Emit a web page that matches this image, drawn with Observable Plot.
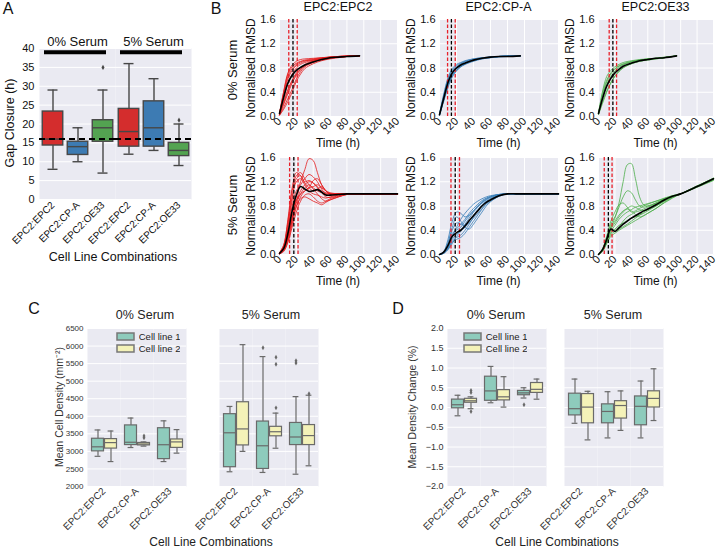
<!DOCTYPE html>
<html>
<head>
<meta charset="utf-8">
<script src="https://cdn.jsdelivr.net/npm/d3@7"></script>
<script src="https://cdn.jsdelivr.net/npm/@observablehq/plot@0.6"></script>
<style>
html,body{margin:0;padding:0;background:#fff;}
#fig{position:relative;width:718px;height:548px;overflow:hidden;font-family:"Liberation Sans",Arial,sans-serif;color:#111;background:#fff;}
#fig .p{position:absolute;}
#fig .t{position:absolute;white-space:nowrap;line-height:1;}
.leg, .leg div, .leg span{font-family:"Liberation Sans",Arial,sans-serif !important;font-size:9.5px !important;color:#222 !important;}
.leg svg rect{stroke:#777;stroke-width:1.5;}
</style>
</head>
<body>
<div id="fig"></div>
<script>
// ---------------- shared categories ----------------
const serums = ["0% Serum", "5% Serum"];
const combos = ["EPC2:EPC2", "EPC2:CP-A", "EPC2:OE33"];
const cellLines = ["Cell line 1", "Cell line 2"];

// ---------------- Panel A: gap closure ----------------
const gapSerum  = ["0% Serum","0% Serum","0% Serum","5% Serum","5% Serum","5% Serum"];
const gapCombo  = ["EPC2:EPC2","EPC2:CP-A","EPC2:OE33","EPC2:EPC2","EPC2:CP-A","EPC2:OE33"];
const gapLow    = [8, 10, 7, 12, 13, 9];
const gapQ1     = [14.3, 11.8, 15.3, 14, 14, 11.5];
const gapMedian = [16, 14, 19, 18, 19, 13];
const gapQ3     = [23.3, 15.3, 21, 24, 26, 15];
const gapHigh   = [29, 19, 29, 36, 32, 20];
const gapOutliers = [[], [], [35], [], [], [21]];
const gapMeanClosure = 16;
const gapBarLevel = 39;
const gapTicks = [0, 5, 10, 15, 20, 25, 30, 35, 40];
const comboColors = ["#d42d2d", "#3d7bb3", "#53a351"];

// ---------------- Panel B: normalised RMSD ----------------
const timeTicks = [0, 20, 40, 60, 80, 100, 120, 140];
const rmsdTicks = [0, 0.4, 0.8, 1.2, 1.6];
const tEarly = [0, 5, 10, 15, 20, 25, 30, 40, 50, 60, 70, 80, 95];
const tLong  = [0, 5, 10, 15, 20, 25, 30, 35, 40, 45, 50, 55, 60, 70, 80, 90, 100, 120, 140];

// 0% serum, EPC2:EPC2
const b0EpcMean = [0.05,0.32,0.55,0.68,0.76,0.81,0.85,0.90,0.94,0.97,0.98,0.99,1.0];
const b0EpcTraces = [
  [0.05,0.40,0.70,0.82,0.88,0.91,0.93,0.95,0.97,0.98,0.99,0.99,1.0],
  [0.04,0.35,0.62,0.76,0.84,0.88,0.91,0.94,0.96,0.98,0.99,1.0,1.0],
  [0.03,0.25,0.45,0.60,0.72,0.80,0.86,0.92,0.95,0.97,0.98,0.99,1.0],
  [0.02,0.15,0.30,0.45,0.62,0.74,0.82,0.90,0.94,0.97,0.98,0.99,1.0],
  [0.03,0.20,0.38,0.55,0.68,0.77,0.83,0.89,0.93,0.96,0.98,0.99,1.0],
  [0.05,0.38,0.66,0.79,0.86,0.90,0.92,0.93,0.95,0.97,0.98,0.99,1.0],
  [0.02,0.12,0.25,0.40,0.58,0.70,0.79,0.87,0.92,0.95,0.97,0.99,1.0],
  [0.04,0.30,0.55,0.70,0.80,0.86,0.89,0.93,0.96,0.98,0.99,1.0,1.0],
  [0.05,0.42,0.72,0.85,0.91,0.94,0.95,0.96,0.97,0.98,0.99,1.0,1.0],
  [0.03,0.22,0.42,0.58,0.70,0.78,0.84,0.91,0.95,0.97,0.98,0.99,1.0]
];
const b0EpcClosure = [11, 16, 21];

// 0% serum, EPC2:CP-A
const b0CpaMean = [0.03,0.30,0.56,0.72,0.80,0.85,0.88,0.93,0.96,0.98,0.99,0.99,1.0];
const b0CpaTraces = [
  [0.04,0.35,0.62,0.77,0.84,0.88,0.91,0.95,0.97,0.98,0.99,1.0,1.0],
  [0.03,0.28,0.52,0.68,0.77,0.83,0.87,0.92,0.95,0.97,0.99,0.99,1.0],
  [0.02,0.25,0.48,0.65,0.75,0.82,0.86,0.92,0.96,0.98,0.99,1.0,1.0],
  [0.04,0.33,0.60,0.75,0.82,0.87,0.90,0.94,0.96,0.98,0.99,1.0,1.0],
  [0.03,0.31,0.57,0.73,0.81,0.86,0.89,0.93,0.96,0.98,0.99,0.99,1.0],
  [0.02,0.27,0.50,0.67,0.76,0.82,0.86,0.91,0.95,0.97,0.98,0.99,1.0],
  [0.05,0.37,0.64,0.79,0.86,0.89,0.92,0.95,0.97,0.98,0.99,1.0,1.0],
  [0.03,0.29,0.54,0.70,0.79,0.84,0.88,0.93,0.96,0.98,0.99,1.0,1.0]
];
const b0CpaClosure = [9.5, 14, 18.5];

// 0% serum, EPC2:OE33
const b0OeMean = [0.05,0.30,0.50,0.63,0.72,0.78,0.83,0.88,0.92,0.94,0.96,0.97,1.0];
const b0OeTraces = [
  [0.06,0.42,0.66,0.76,0.82,0.86,0.89,0.92,0.94,0.95,0.96,0.97,1.0],
  [0.04,0.25,0.42,0.56,0.67,0.75,0.81,0.87,0.91,0.93,0.95,0.97,1.0],
  [0.05,0.35,0.57,0.70,0.78,0.83,0.86,0.90,0.93,0.95,0.96,0.97,1.0],
  [0.03,0.22,0.40,0.55,0.66,0.74,0.80,0.87,0.91,0.94,0.96,0.98,1.0],
  [0.05,0.32,0.53,0.66,0.75,0.81,0.85,0.90,0.93,0.95,0.96,0.97,1.0],
  [0.06,0.38,0.60,0.72,0.79,0.84,0.87,0.91,0.93,0.94,0.95,0.97,1.0]
];
const b0OeClosure = [13, 17.5, 22];

// 5% serum, EPC2:EPC2
const b5EpcMean = [0.02,0.10,0.35,0.72,0.98,1.12,1.08,1.04,1.05,1.07,1.03,0.98,0.98,0.99,1.0,1.0,1.0,1.0,1.0];
const b5EpcTraces = [
  [0.02,0.15,0.55,1.05,1.30,1.35,1.25,1.15,1.10,1.05,1.02,1.00,1.00,1.00,1.0,1.0,1.0,1.0,1.0],
  [0.02,0.12,0.45,0.90,1.25,1.30,1.20,1.22,1.18,1.10,1.05,1.02,1.00,1.00,1.0,1.0,1.0,1.0,1.0],
  [0.01,0.08,0.30,0.60,0.95,1.20,1.40,1.58,1.55,1.35,1.15,1.05,1.00,1.00,1.0,1.0,1.0,1.0,1.0],
  [0.02,0.10,0.35,0.70,0.90,1.00,1.05,1.10,1.22,1.25,1.15,1.05,1.00,1.00,1.0,1.0,1.0,1.0,1.0],
  [0.01,0.05,0.20,0.45,0.70,0.88,0.98,1.00,0.95,0.88,0.85,0.88,0.92,0.96,1.0,1.0,1.0,1.0,1.0],
  [0.02,0.09,0.30,0.62,0.85,1.00,1.10,1.15,1.08,1.00,0.92,0.88,0.90,0.95,0.99,1.0,1.0,1.0,1.0],
  [0.03,0.14,0.50,0.95,1.20,1.25,1.15,1.05,1.00,0.98,0.95,0.93,0.95,0.98,1.0,1.0,1.0,1.0,1.0],
  [0.01,0.06,0.22,0.50,0.78,0.95,1.05,1.10,1.12,1.15,1.10,1.05,1.02,1.00,1.0,1.0,1.0,1.0,1.0],
  [0.02,0.11,0.40,0.80,1.05,1.15,1.25,1.32,1.28,1.20,1.08,1.00,0.98,0.99,1.0,1.0,1.0,1.0,1.0],
  [0.02,0.08,0.28,0.55,0.80,0.92,0.95,0.92,0.88,0.85,0.82,0.86,0.90,0.95,0.99,1.0,1.0,1.0,1.0],
  [0.03,0.16,0.58,1.10,1.35,1.30,1.18,1.10,1.05,1.08,1.12,1.05,1.00,1.00,1.0,1.0,1.0,1.0,1.0],
  [0.01,0.07,0.25,0.58,0.88,1.05,1.15,1.20,1.18,1.12,1.02,0.95,0.94,0.97,1.0,1.0,1.0,1.0,1.0]
];
const b5EpcClosure = [12, 17, 22];

// 5% serum, EPC2:CP-A
const b5CpaMean = [0.0,0.04,0.15,0.30,0.36,0.40,0.47,0.56,0.64,0.72,0.80,0.86,0.90,0.97,1.0,1.0,1.0,1.0,1.0];
const b5CpaTraces = [
  [0.0,0.05,0.25,0.55,0.70,0.68,0.62,0.65,0.72,0.80,0.87,0.92,0.95,0.99,1.0,1.0,1.0,1.0,1.0],
  [0.0,0.03,0.12,0.28,0.45,0.58,0.68,0.76,0.83,0.88,0.92,0.95,0.97,0.99,1.0,1.0,1.0,1.0,1.0],
  [0.0,0.02,0.08,0.18,0.30,0.38,0.45,0.52,0.60,0.68,0.76,0.83,0.88,0.96,1.0,1.0,1.0,1.0,1.0],
  [0.0,0.04,0.18,0.40,0.52,0.50,0.48,0.55,0.65,0.74,0.82,0.88,0.92,0.98,1.0,1.0,1.0,1.0,1.0],
  [0.0,0.02,0.10,0.22,0.28,0.32,0.40,0.50,0.62,0.72,0.80,0.87,0.92,0.98,1.0,1.0,1.0,1.0,1.0],
  [0.0,0.03,0.14,0.32,0.42,0.50,0.58,0.68,0.76,0.83,0.89,0.93,0.96,0.99,1.0,1.0,1.0,1.0,1.0],
  [0.0,0.05,0.20,0.45,0.62,0.55,0.45,0.42,0.50,0.60,0.70,0.80,0.87,0.96,1.0,1.0,1.0,1.0,1.0],
  [0.0,0.02,0.09,0.20,0.25,0.28,0.35,0.45,0.55,0.65,0.75,0.84,0.90,0.97,1.0,1.0,1.0,1.0,1.0],
  [0.0,0.04,0.16,0.35,0.40,0.45,0.55,0.64,0.72,0.80,0.86,0.91,0.95,0.99,1.0,1.0,1.0,1.0,1.0],
  [0.0,0.03,0.11,0.25,0.33,0.40,0.50,0.60,0.70,0.78,0.85,0.90,0.94,0.98,1.0,1.0,1.0,1.0,1.0]
];
const b5CpaClosure = [13.5, 18.5, 23.5];

// 5% serum, EPC2:OE33
const b5OeMean = [0.0,0.08,0.25,0.42,0.38,0.44,0.50,0.55,0.60,0.64,0.68,0.72,0.75,0.82,0.90,0.96,1.0,1.12,1.25];
const b5OeTraces = [
  [0.0,0.08,0.25,0.45,0.60,0.85,1.20,1.48,1.50,1.25,0.95,0.82,0.80,0.85,0.92,0.97,1.0,1.12,1.24],
  [0.0,0.09,0.28,0.50,0.62,0.78,0.95,1.05,1.02,0.90,0.80,0.78,0.80,0.85,0.91,0.96,1.0,1.13,1.25],
  [0.0,0.10,0.30,0.55,0.70,0.82,0.85,0.78,0.70,0.72,0.76,0.80,0.83,0.88,0.93,0.97,1.0,1.11,1.22],
  [0.0,0.06,0.20,0.35,0.42,0.48,0.52,0.56,0.60,0.62,0.65,0.68,0.72,0.80,0.88,0.95,1.0,1.12,1.26],
  [0.0,0.07,0.22,0.38,0.48,0.58,0.65,0.70,0.74,0.78,0.80,0.82,0.84,0.88,0.92,0.96,1.0,1.13,1.25],
  [0.0,0.05,0.18,0.30,0.35,0.40,0.44,0.48,0.52,0.56,0.60,0.64,0.68,0.76,0.85,0.93,1.0,1.12,1.24],
  [0.0,0.09,0.26,0.45,0.55,0.65,0.72,0.76,0.80,0.78,0.74,0.72,0.74,0.80,0.88,0.95,1.0,1.11,1.23],
  [0.0,0.08,0.24,0.40,0.40,0.46,0.55,0.62,0.66,0.70,0.72,0.75,0.78,0.84,0.90,0.96,1.0,1.12,1.25],
  [0.0,0.07,0.23,0.42,0.52,0.62,0.70,0.75,0.72,0.66,0.62,0.64,0.68,0.76,0.86,0.94,1.0,1.13,1.26],
  [0.0,0.06,0.19,0.33,0.38,0.42,0.46,0.50,0.55,0.60,0.65,0.70,0.74,0.82,0.89,0.95,1.0,1.12,1.24]
];
const b5OeClosure = [7, 12, 16.5];

const traceColors = ["#e41a1c", "#377eb8", "#4daf4a"];

// ---------------- Panels C & D: box summaries (serum × combination × cell line) ----------------
const boxSerum = ["0% Serum","0% Serum","0% Serum","0% Serum","0% Serum","0% Serum",
                  "5% Serum","5% Serum","5% Serum","5% Serum","5% Serum","5% Serum"];
const boxCombo = ["EPC2:EPC2","EPC2:EPC2","EPC2:CP-A","EPC2:CP-A","EPC2:OE33","EPC2:OE33",
                  "EPC2:EPC2","EPC2:EPC2","EPC2:CP-A","EPC2:CP-A","EPC2:OE33","EPC2:OE33"];
const boxLine  = ["Cell line 1","Cell line 2","Cell line 1","Cell line 2","Cell line 1","Cell line 2",
                  "Cell line 1","Cell line 2","Cell line 1","Cell line 2","Cell line 1","Cell line 2"];

const densLow  = [2860, 2710, 3110, 3150, 2710, 2950, 2420, 3000, 2400, 3090, 2350, 2590];
const densQ1   = [3000, 3080, 3180, 3170, 2780, 3100, 2550, 3170, 2500, 3430, 3180, 3180];
const densMed  = [3130, 3250, 3260, 3210, 3190, 3270, 3530, 3640, 3160, 3560, 3410, 3450];
const densQ3   = [3360, 3350, 3740, 3240, 3660, 3340, 4060, 4400, 3850, 3700, 3810, 3750];
const densHigh = [3610, 3580, 3950, 3270, 3870, 3620, 4280, 6040, 5700, 4090, 4560, 4600];
const densOutliers = [[], [], [], [3440, 3390], [], [], [], [], [5950], [5680, 5480, 4240], [5580, 5520], [4640]];
const densTicks = [2000, 2500, 3000, 3500, 4000, 4500, 5000, 5500, 6000, 6500];

const chgLow  = [-0.21, -0.03, 0.12, 0.01, 0.24, 0.21, -0.40, -0.82, -0.77, -0.58, -0.77, -0.33];
const chgQ1   = [-0.02, 0.12, 0.17, 0.18, 0.31, 0.37, -0.20, -0.40, -0.40, -0.28, -0.45, 0.00];
const chgMed  = [0.07, 0.17, 0.42, 0.27, 0.37, 0.46, -0.03, 0.01, -0.10, 0.05, 0.03, 0.23];
const chgQ3   = [0.20, 0.22, 0.78, 0.44, 0.42, 0.62, 0.35, 0.34, 0.08, 0.16, 0.28, 0.41];
const chgHigh = [0.31, 0.27, 1.04, 0.78, 0.50, 0.72, 0.72, 0.41, 0.40, 0.42, 0.67, 0.98];
const chgOutliers = [[], [0.43, 0.38, -0.10], [], [], [0.07], [], [], [], [], [], [], []];
const chgTicks = [-2.0, -1.5, -1.0, -0.5, 0.0, 0.5, 1.0, 1.5, 2.0];

const lineColors = ["#8ecbbc", "#f4f2b8"];

// ================= drawing =================
const FONT = '"Liberation Sans", Arial, sans-serif';
const BG = "#eaeaf2";
const fig = document.getElementById("fig");

function baseStyle(size, color) {
  return `font-family:${FONT};font-size:${size}px;color:${color};background:none;overflow:visible;max-width:none;`;
}
function place(el, left, top, cls = "p") {
  const d = document.createElement("div");
  d.className = cls;
  d.style.left = left + "px";
  d.style.top = top + "px";
  d.appendChild(el);
  fig.appendChild(d);
}
function label(str, x, y, size, opts = {}) {
  const d = document.createElement("div");
  d.className = "t";
  d.textContent = str;
  d.style.left = x + "px";
  d.style.top = y + "px";
  d.style.fontSize = size + "px";
  d.style.color = opts.color || "#111";
  d.style.transform = "translate(-50%,-50%)" + (opts.rot ? " rotate(-90deg)" : "");
  fig.appendChild(d);
}

// ---------- Panel A ----------
{
  const rows = gapSerum.map((s, i) => ({serum: s, combo: gapCombo[i], lo: gapLow[i], q1: gapQ1[i], med: gapMedian[i], q3: gapQ3[i], hi: gapHigh[i]}));
  const outl = rows.flatMap((r, i) => gapOutliers[i].map(v => ({serum: r.serum, combo: r.combo, v})));
  const bars = serums.map(s => ({serum: s, y: gapBarLevel}));
  const E = "#474747";
  const common = {fx: "serum", x: "combo", stroke: E, strokeWidth: 1.4};
  const svg = Plot.plot({
    width: 205, height: 265,
    marginLeft: 38, marginRight: 14, marginTop: 48, marginBottom: 66,
    style: baseStyle(11, "#111"),
    fx: {domain: serums, padding: 0},
    x: {domain: combos, padding: 0},
    y: {domain: [0, 40]},
    color: {domain: combos, range: comboColors},
    marks: [
      Plot.frame({fill: BG, stroke: "none"}),
      Plot.gridY(gapTicks, {stroke: "white", strokeOpacity: 1, strokeWidth: 1}),
      Plot.axisFx({anchor: "top", tickSize: 0, tickPadding: 3, fontSize: 13, label: null}),
      Plot.axisX({tickRotate: -45, tickSize: 0, tickPadding: 4, fontSize: 10, label: null}),
      Plot.axisY(gapTicks, {tickSize: 0, tickPadding: 5, label: null}),
      Plot.ruleX(rows, {...common, y1: "lo", y2: "q1"}),
      Plot.ruleX(rows, {...common, y1: "q3", y2: "hi"}),
      Plot.tickY(rows, {...common, y: "lo", insetLeft: 7.5, insetRight: 7.5}),
      Plot.tickY(rows, {...common, y: "hi", insetLeft: 7.5, insetRight: 7.5}),
      Plot.barY(rows, {...common, y1: "q1", y2: "q3", fill: "combo", insetLeft: 2.25, insetRight: 2.25}),
      Plot.tickY(rows, {...common, y: "med", insetLeft: 2.25, insetRight: 2.25}),
      Plot.dot(outl, {fx: "serum", x: "combo", y: "v", symbol: "diamond", r: 1.6, fill: E, stroke: "none"}),
      Plot.ruleY([gapMeanClosure], {stroke: "black", strokeWidth: 2, strokeDasharray: "6,4"}),
      Plot.ruleY(bars, {fx: "serum", y: "y", stroke: "black", strokeWidth: 4, insetLeft: 5, insetRight: 9})
    ]
  });
  place(svg, 0, 0);
  label("A", 8, 9, 16);
  label("Gap Closure (h)", 10, 123, 12.5, {rot: true});
  label("Cell Line Combinations", 113, 257, 12.5);
}

// ---------- Panel B ----------
const bLefts = [279, 439, 598];
const bWidths = [118, 119, 115];
const bTops = [19, 157];
const bHeight = 97;
const bPanels = [
  {row: 0, col: 0, times: tEarly, traces: b0EpcTraces, mean: b0EpcMean, closure: b0EpcClosure},
  {row: 0, col: 1, times: tEarly, traces: b0CpaTraces, mean: b0CpaMean, closure: b0CpaClosure},
  {row: 0, col: 2, times: tEarly, traces: b0OeTraces,  mean: b0OeMean,  closure: b0OeClosure},
  {row: 1, col: 0, times: tLong,  traces: b5EpcTraces, mean: b5EpcMean, closure: b5EpcClosure},
  {row: 1, col: 1, times: tLong,  traces: b5CpaTraces, mean: b5CpaMean, closure: b5CpaClosure},
  {row: 1, col: 2, times: tLong,  traces: b5OeTraces,  mean: b5OeMean,  closure: b5OeClosure}
];
for (const p of bPanels) {
  const rows = [];
  p.traces.forEach((tr, k) => tr.forEach((v, i) => rows.push({id: k, t: p.times[i], v})));
  const meanRows = p.mean.map((v, i) => ({t: p.times[i], v}));
  const w = bWidths[p.col];
  const svg = Plot.plot({
    width: 40 + w + 8, height: 5 + bHeight + 32,
    marginLeft: 40, marginRight: 8, marginTop: 5, marginBottom: 32,
    style: baseStyle(11, "#111"),
    x: {domain: [0, 140]},
    y: {domain: [0, 1.6]},
    marks: [
      Plot.frame({fill: BG, stroke: "none"}),
      Plot.gridX(timeTicks, {stroke: "white", strokeOpacity: 1, strokeWidth: 1}),
      Plot.gridY(rmsdTicks, {stroke: "white", strokeOpacity: 1, strokeWidth: 1}),
      Plot.axisX(timeTicks, {tickRotate: -45, tickSize: 0, tickPadding: 3, label: null}),
      Plot.axisY(rmsdTicks, {tickSize: 0, tickPadding: 4, tickFormat: d3.format(".1f"), label: null}),
      Plot.line(rows, {x: "t", y: "v", z: "id", stroke: traceColors[p.col], strokeWidth: 0.8, curve: "catmull-rom"}),
      Plot.ruleX([p.closure[0], p.closure[2]], {stroke: "#e8202a", strokeWidth: 1.3, strokeDasharray: "3.5,2"}),
      Plot.ruleX([p.closure[1]], {stroke: "black", strokeWidth: 1.3, strokeDasharray: "3.5,2"}),
      Plot.line(meanRows, {x: "t", y: "v", stroke: "black", strokeWidth: 1.6, curve: "catmull-rom"})
    ]
  });
  const left = bLefts[p.col], top = bTops[p.row];
  place(svg, left - 40, top - 5);
  label("Normalised RMSD", left - 28, top + bHeight / 2, 12, {rot: true});
  label("Time (h)", left + w / 2, top + bHeight + 27, 12);
  if (p.row === 0) label(combos[p.col], left + w / 2, 7, 12.5);
}
label("B", 216, 9, 16);
label("0% Serum", 232, 70, 13, {rot: true});
label("5% Serum", 232, 205, 13, {rot: true});

// ---------- Panels C & D ----------
const boxTop = 328, boxH = 158;
function boxPanel(low, q1, med, q3, high, outliers, serum, yDomain, yTicks, fmt, tickSize, showY, left, w, titleX) {
  const all = boxSerum.map((s, i) => ({serum: s, combo: boxCombo[i], line: boxLine[i], lo: low[i], q1: q1[i], med: med[i], q3: q3[i], hi: high[i], out: outliers[i]}));
  const rows = all.filter(r => r.serum === serum);
  const outl = rows.flatMap(r => r.out.map(v => ({combo: r.combo, line: r.line, v})));
  const E = "#6a6a6a";
  const common = {fx: "combo", x: "line", stroke: E, strokeWidth: 1.2};
  const mL = 45, mR = 4, mT = 4, mB = 70;
  const svg = Plot.plot({
    width: mL + w + mR, height: mT + boxH + mB,
    marginLeft: mL, marginRight: mR, marginTop: mT, marginBottom: mB,
    style: baseStyle(tickSize, "#333"),
    fx: {domain: combos, padding: 0},
    x: {domain: cellLines, paddingInner: 0, paddingOuter: 0.25, axis: null},
    y: showY ? {domain: yDomain} : {domain: yDomain, axis: null},
    color: {domain: cellLines, range: lineColors},
    marks: [
      Plot.frame({fill: BG, stroke: "none"}),
      Plot.gridY(yTicks, {stroke: "white", strokeOpacity: 1, strokeWidth: 1}),
      ...(showY ? [Plot.axisY(yTicks, {tickSize: 0, tickPadding: 4, tickFormat: fmt, label: null})] : []),
      Plot.axisFx({anchor: "bottom", tickRotate: -45, tickSize: 0, tickPadding: 3, fontSize: 10, label: null}),
      Plot.ruleX(rows, {...common, y1: "lo", y2: "q1"}),
      Plot.ruleX(rows, {...common, y1: "q3", y2: "hi"}),
      Plot.tickY(rows, {...common, y: "lo", insetLeft: 3.6, insetRight: 3.6}),
      Plot.tickY(rows, {...common, y: "hi", insetLeft: 3.6, insetRight: 3.6}),
      Plot.barY(rows, {...common, y1: "q1", y2: "q3", fill: "line", insetLeft: 0.5, insetRight: 0.5}),
      Plot.tickY(rows, {...common, y: "med", insetLeft: 0.5, insetRight: 0.5}),
      Plot.dot(outl, {fx: "combo", x: "line", y: "v", symbol: "diamond", r: 1.5, fill: E, stroke: "none"})
    ]
  });
  place(svg, left - mL, boxTop - mT);
  label(serum, titleX, 315, 12.5, {color: "#222"});
}
function boxLegend(left, top) {
  const el = Plot.legend({color: {type: "ordinal", domain: cellLines, range: lineColors}, legend: "swatches", columns: 1, swatchWidth: 17, swatchHeight: 7});
  place(el, left, top, "p leg");
}

// C
boxPanel(densLow, densQ1, densMed, densQ3, densHigh, densOutliers, "0% Serum", [2000, 6500], densTicks, d => String(d), 8, true, 87, 99, 145);
boxPanel(densLow, densQ1, densMed, densQ3, densHigh, densOutliers, "5% Serum", [2000, 6500], densTicks, d => String(d), 8, false, 219, 99, 271);
boxLegend(117, 331);
label("C", 34, 309, 16);
label("Mean Cell Density (mm⁻²)", 59, 407, 10.5, {rot: true, color: "#333"});
label("Cell Line Combinations", 211, 542, 12, {color: "#222"});

// D
const fmtD = d3.format(".1f");
boxPanel(chgLow, chgQ1, chgMed, chgQ3, chgHigh, chgOutliers, "0% Serum", [-2, 2], chgTicks, fmtD, 9, true, 447, 99, 496);
boxPanel(chgLow, chgQ1, chgMed, chgQ3, chgHigh, chgOutliers, "5% Serum", [-2, 2], chgTicks, fmtD, 9, false, 564, 99, 613);
boxLegend(464, 331);
label("D", 398, 309, 16);
label("Mean Density Change (%)", 412, 407, 10.5, {rot: true, color: "#333"});
label("Cell Line Combinations", 557, 542, 12, {color: "#222"});
</script>
</body>
</html>
